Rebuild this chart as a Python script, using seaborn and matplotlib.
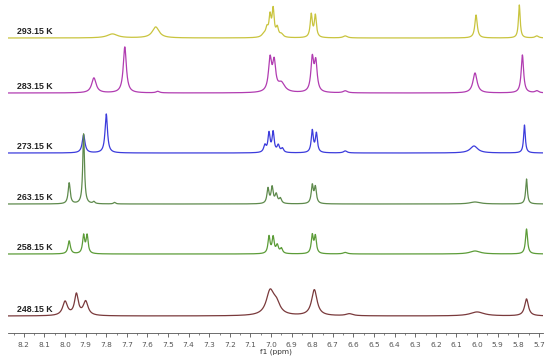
import numpy as np
import pandas as pd
import matplotlib
matplotlib.use('Agg')
import matplotlib.pyplot as plt
import seaborn as sns

# temperatures, top to bottom
temps = ['293.15 K', '283.15 K', '273.15 K', '263.15 K', '258.15 K', '248.15 K']
colors = ['#c9c43e', '#b13cb1', '#3c3cdc', '#5e8a4c', '#5c9c38', '#7a3a3c']
offsets = [295, 240, 180, 129, 79, 17]

# peak lists: (shift ppm, height, half width ppm)
p293 = [(7.77, 4, 0.03), (7.56, 11, 0.02), (7.035, 3, 0.012), (7.02, 8, 0.007),
        (7.005, 20, 0.006), (6.99, 27, 0.006), (6.97, 9, 0.007), (6.95, 3, 0.01),
        (6.805, 23, 0.006), (6.785, 22, 0.006), (6.64, 2, 0.012),
        (6.005, 23, 0.007), (5.795, 33, 0.005), (5.71, 2, 0.01)]
p283 = [(7.86, 15, 0.013), (7.71, 46, 0.009), (7.55, 1.5, 0.01),
        (7.005, 32, 0.009), (6.985, 28, 0.009), (6.95, 9, 0.02),
        (6.80, 33, 0.008), (6.783, 29, 0.008), (6.64, 2, 0.012),
        (6.01, 20, 0.012), (5.78, 38, 0.007), (5.71, 2, 0.01)]
p273 = [(7.91, 18, 0.008), (7.80, 39, 0.007), (7.03, 7, 0.007),
        (7.01, 19, 0.006), (6.99, 20, 0.006), (6.965, 7, 0.007), (6.945, 4, 0.007),
        (6.80, 22, 0.006), (6.78, 19, 0.006), (6.64, 2, 0.01),
        (6.015, 7, 0.022), (5.77, 28, 0.005)]
p263 = [(7.98, 21, 0.006), (7.91, 70, 0.005), (7.86, 2, 0.006), (7.76, 1.5, 0.006),
        (7.015, 15, 0.006), (6.995, 16, 0.006), (6.975, 9, 0.007), (6.955, 5, 0.007),
        (6.80, 18, 0.006), (6.785, 16, 0.006), (6.01, 2, 0.03), (5.76, 25, 0.005)]
p258 = [(7.98, 13, 0.007), (7.91, 18, 0.006), (7.893, 18, 0.006),
        (7.01, 17, 0.006), (6.99, 16, 0.006), (6.97, 8, 0.007), (6.95, 5, 0.007),
        (6.80, 18, 0.006), (6.785, 17, 0.006), (6.64, 1.5, 0.012),
        (6.01, 3, 0.03), (5.76, 25, 0.006)]
p248 = [(8.00, 14, 0.014), (7.945, 21, 0.011), (7.90, 14, 0.014),
        (7.005, 23, 0.022), (6.975, 11, 0.022), (6.79, 26, 0.016),
        (6.62, 2, 0.02), (6.0, 4, 0.04), (5.76, 17, 0.011)]
peaks = [p293, p283, p273, p263, p258, p248]

ppm = np.linspace(8.28, 5.68, 4000)

rows = []
for t, off, pk in zip(temps, offsets, peaks):
    y = np.zeros_like(ppm)
    for x0, h, w in pk:
        y += h * w**2 / ((ppm - x0)**2 + w**2)
    rows.append(pd.DataFrame({'ppm': ppm, 'y': y + off, 'temp': t}))
df = pd.concat(rows, ignore_index=True)

sns.set_style('white')
fig = plt.figure(figsize=(5.5, 3.56), dpi=100)
ax = fig.add_axes([8/550, 23/356, 535/550, 333/356])

sns.lineplot(data=df, x='ppm', y='y', hue='temp', palette=colors,
             estimator=None, sort=False, linewidth=0.9, legend=False, ax=ax)

for t, off in zip(temps, offsets):
    ax.text(8.235, off + 2, t, fontsize=6.3, fontweight='bold', color='#222222',
            ha='left', va='bottom', family=['Liberation Sans', 'DejaVu Sans'])

ticks = np.round(np.arange(8.2, 5.65, -0.1), 1)
ax.set_xlim(8.277, 5.68)
ax.set_ylim(0, 333)
ax.set_xticks(ticks)
ax.set_xticks(np.arange(8.25, 5.65, -0.05), minor=True)
ax.set_xticklabels([f'{v:.1f}' for v in ticks])
ax.tick_params(axis='x', which='major', length=3, width=0.6, labelsize=5.3,
               colors='#555555', pad=3.5, bottom=True)
ax.tick_params(axis='x', which='minor', length=1.5, width=0.5, bottom=True,
               colors='#555555')
ax.set_yticks([])
for s in ['top', 'left', 'right']:
    ax.spines[s].set_visible(False)
ax.spines['bottom'].set_color('#555555')
ax.spines['bottom'].set_linewidth(0.6)
ax.set_xlabel('f1 (ppm)', fontsize=5.3, color='#333333', labelpad=0)
ax.set_ylabel('')

fig.savefig('out.png', dpi=100)
